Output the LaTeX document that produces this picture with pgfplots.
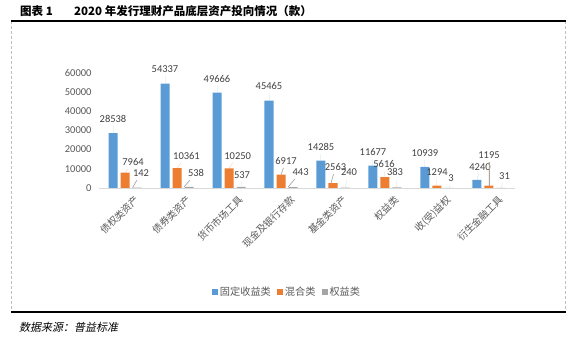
\documentclass[border=0pt]{standalone}
\usepackage{fontspec}
\setmainfont{Carlito}
\newfontfamily\cjk{Noto Sans CJK SC}
\newfontfamily\cjkit{Noto Sans CJK SC}[FakeSlant=0.2]
\usepackage{pgfplots}
\usepackage{pgfplotstable}
\usetikzlibrary{calc}
\pgfplotsset{compat=1.18}
\definecolor{cblue}{HTML}{5B9BD5}
\definecolor{corange}{HTML}{ED7D31}
\definecolor{cgray}{HTML}{A5A5A5}
\definecolor{tickgray}{HTML}{595959}
\definecolor{labgray}{HTML}{404040}
\definecolor{axgray}{HTML}{D9D9D9}
\definecolor{dashgray}{HTML}{BFBFBF}
\definecolor{leadgray}{HTML}{A6A6A6}

\pgfplotstableread{
x y dx dy tx lead
0 28538 0 14 0 0
1 54337 0 14.5 0 0
2 49666 0 14 0 0
3 45465 0 14.5 0 0
4 14285 0 13.5 0 0
5 11677 0 13.5 0 0
6 10939 0 14 0 0
7 4240 3 13 0 0
}\fixed
\pgfplotstableread{
x y dx dy tx lead
0 7964 8 11 0 0
1 10361 9.5 12 0 0
2 10250 8.7 12.5 0 0
3 6917 5 14 0 1
4 2563 2.5 16 -2 1
5 5616 -1 13 0 0
6 1294 0 13.5 0 0
7 1195 0 30.5 0 1
}\mixed
\pgfplotstableread{
x y dx dy tx lead
0 142 4 14.5 -4.5 1
1 538 7 14 -5 1
2 537 1 12 0 0
3 443 7.6 15 -5 1
4 240 4 15 0 0
5 383 -2 15 0 0
6 3 2 10 0 0
7 31 3.5 12 0 0
}\equity

\pgfplotsset{
  labelled/.style={
    visualization depends on={\thisrow{dx} \as \dx},
    visualization depends on={\thisrow{dy} \as \dy},
    visualization depends on={\thisrow{tx} \as \tx},
    visualization depends on={\thisrow{lead} \as \lead},
    point meta=explicit symbolic, nodes near coords,
    every node near coord/.append style={anchor=center, xshift=\dx pt, yshift=\dy pt,
      append after command={(\tikzlastnode) edge[draw=leadgray, line width=0.6pt, draw opacity=\lead]
        ($(\tikzlastnode.center)+({\tx pt-\dx pt},{-\dy pt})$)}},
  },
}

\begin{document}
\begin{tikzpicture}[x=1pt,y=1pt]
\path (0pt,0pt) rectangle (575pt,339pt);
% frame
\draw[dashgray, dash pattern=on 3pt off 2pt, line width=0.8pt] (11pt,318pt) -- (11pt,27pt);
\draw[dashgray, dash pattern=on 3pt off 2pt, line width=0.8pt] (565pt,318pt) -- (565pt,27pt);
\draw[black, line width=1.5pt] (11pt,318pt) -- (566pt,318pt);
\draw[black, line width=1.2pt] (11pt,27pt) -- (566pt,27pt);
% title
\node[anchor=west, inner sep=0pt] at (20pt,328pt) {\cjk\bfseries\fontsize{11.5}{13}\selectfont 图表 1};
\node[anchor=west, inner sep=0pt] at (74pt,328pt) {\cjk\bfseries\fontsize{11.5}{13}\selectfont 2020 年发行理财产品底层资产投向情况（款）};
% source
\node[anchor=west, inner sep=0pt] at (19pt,12pt) {\cjkit\fontsize{11}{13}\selectfont 数据来源：普益标准};

\begin{axis}[
  at={(99pt,151pt)}, anchor=south west,
  scale only axis, width=416pt, height=115.3pt,
  xmin=-0.5, xmax=7.5, ymin=0, ymax=60000,
  ybar=3pt, bar width=9pt,
  axis x line*=bottom, axis y line*=left,
  x axis line style={axgray, line width=0.8pt},
  y axis line style={draw=none},
  major tick length=0pt,
  xtick={0,...,7},
  xticklabels={债权类资产,债券类资产,货币市场工具,现金及银行存款,基金类资产,权益类,收(受)益权,衍生金融工具},
  xticklabel style={font=\cjk\fontsize{9.8}{12}\selectfont, text=tickgray, rotate=45, anchor=north east, xshift=5pt, yshift=-7pt},
  ytick={0,10000,...,60000},
  scaled y ticks=false,
  yticklabel style={font=\fontsize{10.5}{12}\selectfont, text=tickgray, xshift=-4pt,
    /pgf/number format/1000 sep={}, /pgf/number format/assume math mode=true},
  legend style={at={(0.452,-0.902)}, anchor=center, draw=none, fill=none,
    legend columns=3, font=\cjk\fontsize{10.2}{12}\selectfont, text=tickgray,
    /tikz/every even column/.append style={column sep=4pt}, inner sep=0pt},
  legend image code/.code={\path[#1] (0pt,-3pt) rectangle (6pt,3pt);},
  every node near coord/.append style={font=\fontsize{10.5}{12}\selectfont, text=labgray},
  clip=false,
]
\addplot[fill=cblue, draw=none, labelled] table[x=x, y=y, meta=y] {\fixed};
\addplot[fill=corange, draw=none, labelled] table[x=x, y=y, meta=y] {\mixed};
\addplot[fill=cgray, draw=none, labelled] table[x=x, y=y, meta=y] {\equity};
\legend{固定收益类,混合类,权益类}
\end{axis}
\end{tikzpicture}
\end{document}
